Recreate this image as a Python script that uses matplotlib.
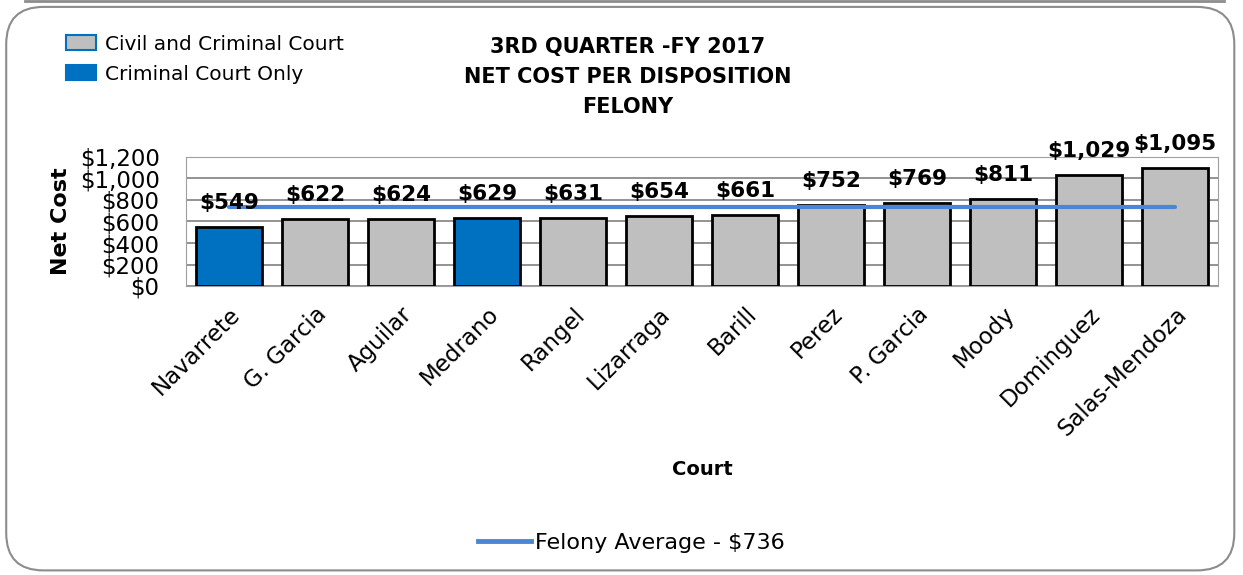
import numpy as np
import matplotlib.pyplot as plt
from matplotlib.patches import FancyBboxPatch, Patch
from matplotlib.lines import Line2D
from matplotlib.ticker import FuncFormatter

courts = ["Navarrete", "G. Garcia", "Aguilar", "Medrano", "Rangel", "Lizarraga",
          "Barill", "Perez", "P. Garcia", "Moody", "Dominguez", "Salas-Mendoza"]
net_cost = [549, 622, 624, 629, 631, 654, 661, 752, 769, 811, 1029, 1095]
criminal_only = [True, False, False, True, False, False, False, False, False, False, False, False]
average = 736

gray = "#BFBFBF"
blue = "#0070C0"
line_blue = "#4A86D4"

fig = plt.figure(figsize=(12.43, 5.75), dpi=100)

# outer rounded frame, kept behind the axes
frame = FancyBboxPatch((0.005, 0.008), 0.988, 0.98, boxstyle="round,pad=0,rounding_size=0.03",
                       transform=fig.transFigure, facecolor="white", edgecolor="#8C8C8C",
                       linewidth=1.5, mutation_aspect=1243/575, zorder=-5)
fig.patches.append(frame)
fig.add_artist(Line2D([0.02, 0.985], [0.998, 0.998], color="#8C8C8C", lw=2,
                      transform=fig.transFigure, zorder=-6))

ax = fig.add_axes([186/1243, 1-286/575, (1218-186)/1243, (286-157)/575])
ax.set_zorder(1)
x = np.arange(len(courts))
colors = [blue if c else gray for c in criminal_only]
ax.bar(x, net_cost, width=0.76, color=colors, edgecolor="black", linewidth=2, zorder=3)
ax.plot([x[0], x[-1]], [average, average], color=line_blue, lw=3, zorder=4,
        solid_capstyle="round")

for xi, v in zip(x, net_cost):
    ax.annotate("${:,}".format(v), (xi, v), xytext=(0, 10), textcoords="offset points",
                ha="center", va="bottom", fontsize=15.5, fontweight="bold", zorder=5,
                annotation_clip=False)

ax.set_xlim(-0.5, len(courts) - 0.5)
ax.set_ylim(0, 1200)
ax.set_yticks(np.arange(0, 1201, 200))
ax.yaxis.set_major_formatter(FuncFormatter(lambda v, p: "${:,.0f}".format(v)))
ax.grid(axis="y", color="#808080", lw=1.2, zorder=0)
for s in ax.spines.values():
    s.set_color("#A0A0A0")
ax.tick_params(length=0)
ax.tick_params(axis="y", labelsize=16.5, pad=19)
ax.set_xticks(x)
ax.set_xticklabels(courts, rotation=45, ha="right", rotation_mode="anchor", fontsize=16.5)
ax.tick_params(axis="x", pad=12)
ax.set_ylabel("Net Cost", fontsize=16, fontweight="bold", labelpad=6)
ax.set_xlabel("Court", fontsize=14, fontweight="bold", labelpad=14)

fig.text(0.505, 0.866, "3RD QUARTER -FY 2017\nNET COST PER DISPOSITION\nFELONY",
         ha="center", va="center", fontsize=15, fontweight="bold", linespacing=1.62)

handles = [Patch(facecolor=gray, edgecolor=blue, lw=1.5, label="Civil and Criminal Court"),
           Patch(facecolor=blue, edgecolor=blue, lw=1.5, label="Criminal Court Only")]
fig.legend(handles=handles, loc="upper left", bbox_to_anchor=(0.053, 0.94), frameon=False,
           fontsize=14.5, handlelength=1.5, handleheight=0.7, handletextpad=0.45,
           labelspacing=0.55, borderaxespad=0, borderpad=0)

fig.legend(handles=[Line2D([], [], color=line_blue, lw=3.5, label="Felony Average - $736")],
           loc="center", bbox_to_anchor=(0.508, 0.056), frameon=False, fontsize=16,
           handlelength=2.4, handletextpad=0.2)

fig.savefig("out.png", dpi=100)
